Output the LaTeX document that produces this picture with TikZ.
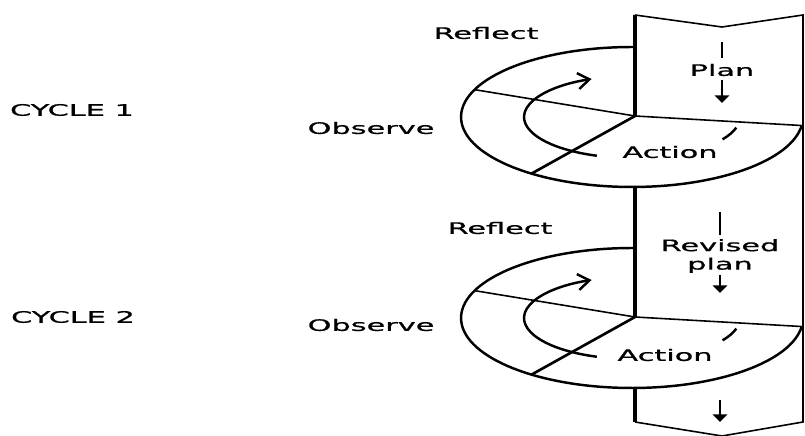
\documentclass[tikz,border=0pt]{standalone}
\usepackage{fontspec}
\setmainfont{DejaVu Sans}
\newfontfamily\tagfont{DejaVu Sans}[FakeBold=0.6]
\usetikzlibrary{arrows.meta,calc}
\tikzset{
  tag/.style={font=\tagfont\fontsize{9}{10.5}\selectfont, xscale=1.92, inner sep=0pt, align=center},
  ring/.style={line width=1.4pt},
  spoke/.style={line width=.9pt},
  spine/.style={line width=2.1pt},
  turn/.style={line width=1.4pt, -{Straight Barb[length=2.3mm,width=3.2mm]}},
  down/.style={line width=.9pt, -{Triangle[length=1.5mm,width=2.9mm]}},
}

\begin{document}
\begin{tikzpicture}[x=0.02cm,y=0.02cm]
  \useasboundingbox (0,0) rectangle (805,436);
  % the column
  \coordinate (tl) at (635,421);
  \coordinate (notch) at (722,409);
  \coordinate (tr) at (803,421);
  \coordinate (br) at (803,14);
  \coordinate (tip) at (722,0);
  \coordinate (bl) at (635,14);
  \draw[spoke, line join=miter] (tl) -- (notch) -- (tr) -- (br) -- (tip) -- (bl);
  % the two rings
  \foreach \i/\cy in {1/319,2/118} {
    \coordinate (c\i) at (632,\cy);
    \coordinate (v\i) at (635,\cy+1);
    \coordinate (low\i) at ($(c\i)+(271:3.42cm and 1.4cm)$);
    \draw[ring] ($(c\i)+(89:3.42cm and 1.4cm)$)
      arc[start angle=89, end angle=353, x radius=3.42cm, y radius=1.4cm] coordinate (r\i);
    \draw[spoke] (r\i) -- (v\i);
    \draw[spoke] (v\i) -- ($(c\i)+(157:3.42cm and 1.4cm)$);
    \draw[spoke, line width=1.5pt] (v\i) -- ($(c\i)+(234:3.42cm and 1.4cm)$);
    \draw[turn] ($(c\i)+(251:2.16cm and 0.82cm)$)
      arc[start angle=251, end angle=112, x radius=2.16cm, y radius=0.82cm];
    \draw[ring] ($(c\i)+(-33:2.16cm and 0.82cm)$)
      arc[start angle=-33, end angle=-15, x radius=2.16cm, y radius=0.82cm];
  }
  \draw[spine] (tl) -- (v1) (low1) -- (v2) (low2) -- (bl);
  % labels
  \node[tag] (cyc1) at (72,326) {CYCLE 1};
  \node[tag] (cyc2) at (73,119) {CYCLE 2};
  \node[tag] (refl1) at (486,403) {Reflect};
  \node[tag] (refl2) at (500,208) {Reflect};
  \node[tag] (obs1) at (371,308) {Observe};
  \node[tag] (obs2) at (371,111) {Observe};
  \node[tag] (act1) at (670,284) {Action};
  \node[tag] (act2) at (665,81) {Action};
  \node[tag] (plan1) at (722,366) {Plan};
  \node[tag] (plan2) at (720,180) {Revised\\plan};
  % plan arrows
  \coordinate (p1a) at (722,394);
  \coordinate (p1b) at (722,378);
  \coordinate (p1c) at (722,356);
  \coordinate (p1d) at (722,333);
  \coordinate (p2a) at (720,224);
  \coordinate (p2b) at (720,201);
  \coordinate (p2c) at (720,161);
  \coordinate (p2d) at (720,143);
  \coordinate (p3a) at (720,36);
  \coordinate (p3b) at (720,14);
  \draw[spoke] (p1a) -- (p1b);
  \draw[down] (p1c) -- (p1d);
  \draw[spoke] (p2a) -- (p2b);
  \draw[down] (p2c) -- (p2d);
  \draw[down] (p3a) -- (p3b);
\end{tikzpicture}
\end{document}
